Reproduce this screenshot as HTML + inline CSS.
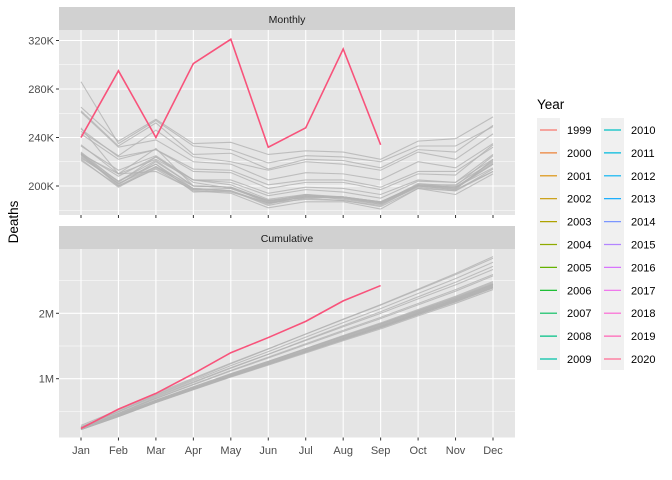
<!DOCTYPE html>
<html><head><meta charset="utf-8"><style>
body{margin:0;background:#fff;}
svg{display:block;font-family:"Liberation Sans",Arial,sans-serif;}
</style></head><body>
<svg id="chart" width="672" height="480" viewBox="0 0 672 480" xmlns="http://www.w3.org/2000/svg"></svg>
<script>
const months=["Jan","Feb","Mar","Apr","May","Jun","Jul","Aug","Sep","Oct","Nov","Dec"];
const years=[1999,2000,2001,2002,2003,2004,2005,2006,2007,2008,2009,2010,2011,2012,2013,2014,2015,2016,2017,2018,2019,2020];
const monthly1999=[226,204,218,198,196,186,191,191,186,201,199,219];
const monthly2000=[248,210,212,197,198,187,193,190,186,200,198,221];
const monthly2001=[226,200,216,200,199,186,191,190,185,200,197,212];
const monthly2002=[227,201,220,200,199,187,191,191,186,201,199,218];
const monthly2003=[228,203,224,203,198,188,190,191,186,202,200,225];
const monthly2004=[225,202,216,197,195,186,189,188,184,200,197,222];
const monthly2005=[234,210,231,200,199,188,192,191,187,200,199,215];
const monthly2006=[222,199,215,198,196,185,192,189,185,199,196,212];
const monthly2007=[224,202,218,195,196,184,190,188,183,198,196,214];
const monthly2008=[233,213,225,205,201,189,193,191,187,201,198,218];
const monthly2009=[221,200,214,196,194,182,187,187,181,198,193,210];
const monthly2010=[223,204,221,200,199,188,192,191,187,201,201,220];
const monthly2011=[226,210,222,205,203,192,197,195,190,204,203,222];
const monthly2012=[227,208,224,205,205,194,199,198,193,205,203,226];
const monthly2013=[243,222,230,212,211,198,203,203,197,210,209,234];
const monthly2014=[247,224,230,214,213,201,205,205,199,212,212,232];
const monthly2015=[261,232,238,220,218,205,211,210,205,220,215,235];
const monthly2016=[245,225,246,224,220,213,220,218,213,228,222,243];
const monthly2017=[262,233,252,226,227,214,222,221,215,230,228,250];
const monthly2018=[286,235,254,233,230,219,225,224,220,233,233,249];
const monthly2019=[265,237,255,235,236,226,229,228,222,237,239,257];
const monthly2020=[240,295,240,301,321,232,248,313,234];
const topTicks=[200,240,280,320];
const topTickLabels=["200K","240K","280K","320K"];
const botTicks=[1000,2000];
const botTickLabels=["1M","2M"];

const grays=[monthly1999,monthly2000,monthly2001,monthly2002,monthly2003,monthly2004,monthly2005,monthly2006,monthly2007,monthly2008,monthly2009,monthly2010,monthly2011,monthly2012,monthly2013,monthly2014,monthly2015,monthly2016,monthly2017,monthly2018,monthly2019];

const NS="http://www.w3.org/2000/svg";
const svg=document.getElementById('chart');
function mk(tag,attrs,parent,text){const e=document.createElementNS(NS,tag);for(const k in attrs)e.setAttribute(k,attrs[k]);if(text!==undefined)e.textContent=text;(parent||svg).appendChild(e);return e;}
const PX0=59,PX1=515;
function x(i){return 81+i*(493-81)/11;}
function yTop(v){return 186-(v-200)*48.5/40;}
function yBot(v){return 313.3-(v-2000)*65.4/1000;}
function cum(a){let s=0;return a.map(v=>s+=v);}
function hcl(h,c,l){const hr=h*Math.PI/180;const L=l,U=c*Math.cos(hr),V=c*Math.sin(hr);
 const un=0.19783,vn=0.46832;const Y=L>8?Math.pow((L+16)/116,3):L/903.3;
 const up=U/(13*L)+un,vp=V/(13*L)+vn;const X=Y*9*up/(4*vp),Z=Y*(12-3*up-20*vp)/(4*vp);
 let r=3.2406*X-1.5372*Y-0.4986*Z,g=-0.9689*X+1.8758*Y+0.0415*Z,b=0.0557*X-0.2040*Y+1.0570*Z;
 const f=t=>{t=t<=0.0031308?12.92*t:1.055*Math.pow(t,1/2.4)-0.055;return Math.round(Math.max(0,Math.min(1,t))*255);};
 return `rgb(${f(r)},${f(g)},${f(b)})`;}
function colorOf(i){return hcl(15+360*i/22,100,65);}

function panel(name,top,bottom,stripTop,title,yf,minors,ticks,labels,series,redSeries){
 const g=mk('g',{},svg);
 
 
 mk('rect',{x:PX0,y:stripTop,width:PX1-PX0,height:top-stripTop,fill:'#D1D1D1'},g);
 const st=mk('text',{x:(PX0+PX1)/2,y:stripTop+16,'text-anchor':'middle','font-size':'10.5',fill:'#1A1A1A'},g,title);
 
 
 mk('rect',{x:PX0,y:top,width:PX1-PX0,height:bottom-top,fill:'#E5E5E5'},g);
 minors.forEach(v=>{const yy=yf(v);if(yy>top&&yy<bottom)mk('line',{x1:PX0,x2:PX1,y1:yy,y2:yy,stroke:'#fff','stroke-width':0.55},g);});
 ticks.forEach((v,i)=>{const yy=yf(v);mk('line',{x1:PX0,x2:PX1,y1:yy,y2:yy,stroke:'#fff','stroke-width':1.1},g);
  mk('line',{x1:PX0-3,x2:PX0,y1:yy,y2:yy,stroke:'#333','stroke-width':1},g);
  const t=mk('text',{x:PX0-5,y:yy+4,'text-anchor':'end','font-size':'11',fill:'#4D4D4D'},g,labels[i]);
  
  });
 months.forEach((m,i)=>mk('line',{x1:x(i),x2:x(i),y1:top,y2:bottom,stroke:'#fff','stroke-width':1.1},g));
 series.forEach((s,k)=>{const p=mk('polyline',{points:s.map((v,i)=>x(i)+','+yf(v)).join(' '),fill:'none',stroke:'#B3B3B3','stroke-width':1.1,'stroke-opacity':0.8},g);
  
  });
 const r=mk('polyline',{points:redSeries.map((v,i)=>x(i)+','+yf(v)).join(' '),fill:'none',stroke:'#F8537B','stroke-width':1.6},g);
 
 
}
panel('monthly',30,215,7,'Monthly',yTop,[180,220,260,300],topTicks,topTickLabels,grays,monthly2020);
panel('cumulative',249,437.5,226,'Cumulative',yBot,[500,1500,2500],botTicks,botTickLabels,grays.map(cum),cum(monthly2020));
months.forEach((m,i)=>{mk('line',{x1:x(i),x2:x(i),y1:437.5,y2:440.5,stroke:'#333','stroke-width':1});
 mk('line',{x1:x(i),x2:x(i),y1:215,y2:218,stroke:'#333','stroke-width':1});
 const t=mk('text',{x:x(i),y:454,'text-anchor':'middle','font-size':'11',fill:'#4D4D4D'},svg,m);
 
 });
const yt=mk('text',{x:0,y:0,transform:'translate(18,222) rotate(-90)','text-anchor':'middle','font-size':'13.5',fill:'#000'},svg,'Deaths');


const lg=mk('g',{},svg);


const lt=mk('text',{x:537,y:109,'font-size':'13.5',fill:'#000'},lg,'Year');


mk('rect',{x:537,y:118,width:23,height:252,fill:'#F0F0F0'},lg);
mk('rect',{x:601,y:118,width:23,height:252,fill:'#F0F0F0'},lg);
years.forEach((yr,i)=>{const col=i<11?0:1,row=i%11;const kx=col?601:537,yy=130+row*22.9;
 const e=mk('g',{},lg);
 
 
 mk('line',{x1:kx+3,x2:kx+20,y1:yy,y2:yy,stroke:colorOf(i),'stroke-width':1.2},e);
 mk('text',{x:kx+30,y:yy+4,'font-size':'11',fill:'#000'},e,String(yr));});
</script>
</body></html>
